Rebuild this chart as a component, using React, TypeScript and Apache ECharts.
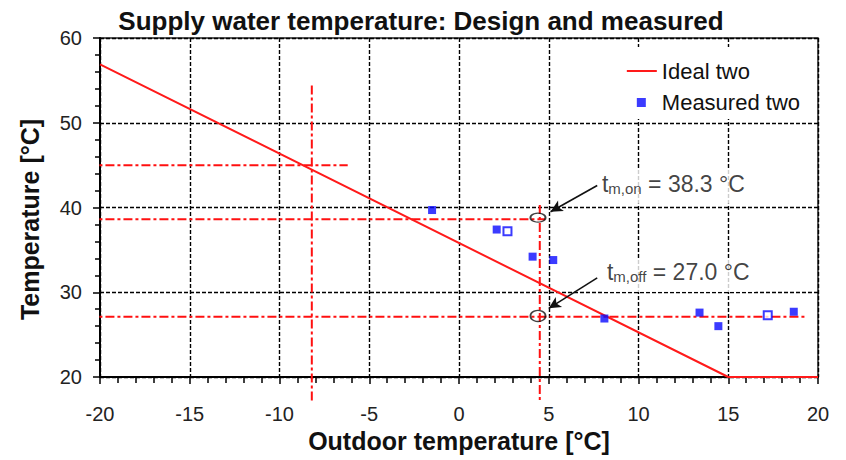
import React, { useEffect, useRef } from "react";
import * as echarts from "echarts";

// Ideal supply temperature curve
const idealX = [-20, 15, 20];
const idealY = [56.9, 20, 20];

// Measured supply temperatures
const measuredX = [-1.5, 2.1, 2.7, 4.1, 5.25, 8.1, 13.4, 14.45, 17.2, 18.65];
const measuredY = [39.7, 37.4, 37.2, 34.2, 33.8, 26.9, 27.6, 26.0, 27.3, 27.7];
const hollowIdx = [2, 8];

// Red dash-dot reference lines (from -> to)
const refFromX = [-20.7, -20.7, -20.7, -8.2, 4.5];
const refFromY = [45, 38.6, 27.1, 54.4, 40.3];
const refToX = [-6.2, 4.8, 19.4, -8.2, 4.5];
const refToY = [45, 38.6, 27.1, 17.0, 17.0];

// Annotations
const annotX = [7.74, 8.02];
const annotY = [42.44, 32.05];
const annotSub = ["m,on", "m,off"];
const annotValue = ["38.3", "27.0"];
const arrowFromX = [7.7, 7.7];
const arrowFromY = [42.6, 31.7];
const arrowToX = [5.1, 5.0];
const arrowToY = [39.5, 28.1];
const circleX = [4.4, 4.4];
const circleY = [38.8, 27.2];
const circleW = [15, 15];
const circleH = [9, 11];

const FONT = "Liberation Sans, Arial, sans-serif";

export default function App() {
  const ref = useRef<HTMLDivElement>(null);
  useEffect(() => {
    const chart = echarts.init(ref.current!, null, { renderer: "svg" });

    const refSeries = refFromX.map((x, i) => ({
      type: "line",
      name: "ref" + i,
      data: [
        [x, refFromY[i]],
        [refToX[i], refToY[i]],
      ],
      symbol: "none",
      clip: false,
      silent: true,
      z: 3,
      lineStyle: { color: "#ff1010", width: 2, type: [9, 3, 3, 3] },
    }));

    const option: any = {
      animation: false,
      backgroundColor: "#fff",
      textStyle: { fontFamily: FONT },
      title: {
        text: "Supply water temperature: Design and measured",
        left: 416,
        textAlign: "center",
        top: 3,
        textStyle: { fontFamily: FONT, fontSize: 26, fontWeight: "bold", color: "#111" },
      },
      legend: {
        orient: "vertical",
        right: 31,
        top: 47,
        backgroundColor: "#fff",
        padding: [12, 15, 5, 20],
        itemGap: 7,
        itemWidth: 30,
        itemHeight: 14,
        textStyle: { fontFamily: FONT, fontSize: 22, color: "#111", lineHeight: 24 },
        data: [
          { name: "Ideal two", icon: "path://M0,0M30,14M0,6h30v2h-30z" },
          { name: "Measured two", icon: "path://M0,0M30,14M10,3h9v9h-9z" },
        ],
      },
      grid: {
        left: 100,
        right: 28,
        top: 38,
        bottom: 83,
        show: true,
        borderColor: "#222",
        borderWidth: 1.5,
      },
      xAxis: {
        type: "value",
        min: -20,
        max: 20,
        interval: 5,
        name: "Outdoor temperature [°C]",
        nameLocation: "middle",
        nameGap: 47,
        nameTextStyle: { fontFamily: FONT, fontSize: 25, fontWeight: "bold", color: "#111" },
        axisLine: { onZero: false, lineStyle: { color: "#000", width: 2 } },
        axisTick: { length: 7, lineStyle: { color: "#000", width: 1.5 } },
        minorTick: { show: true, splitNumber: 5, length: 6, lineStyle: { color: "#000", width: 1.5 } },
        axisLabel: { margin: 27, fontFamily: FONT, fontSize: 20, color: "#222" },
        splitLine: { show: true, lineStyle: { color: "#000", width: 1.4, type: [4, 2] } },
      },
      yAxis: {
        type: "value",
        min: 20,
        max: 60,
        interval: 10,
        name: "Temperature [°C]",
        nameLocation: "middle",
        nameGap: 58,
        nameTextStyle: {
          fontFamily: FONT,
          fontSize: 25,
          fontWeight: "bold",
          color: "#111",
          padding: [0, 24, 0, 0],
        },
        axisLine: { show: true, onZero: false, lineStyle: { color: "#000", width: 2 } },
        axisTick: { show: true, length: 7, lineStyle: { color: "#000", width: 1.5 } },
        minorTick: { show: true, splitNumber: 5, length: 5, lineStyle: { color: "#000", width: 1.5 } },
        axisLabel: { margin: 18, fontFamily: FONT, fontSize: 20, color: "#222" },
        splitLine: { show: true, lineStyle: { color: "#000", width: 1.4, type: [4, 2] } },
      },
      series: [
        ...refSeries,
        {
          type: "line",
          name: "Ideal two",
          data: idealX.map((x, i) => [x, idealY[i]]),
          symbol: "none",
          z: 4,
          lineStyle: { color: "#ff1a1a", width: 2 },
          itemStyle: { color: "#ff1a1a" },
        },
        {
          type: "scatter",
          name: "Measured two",
          symbol: "rect",
          symbolSize: 8,
          z: 5,
          itemStyle: { color: "#0a0aff" },
          data: measuredX.map((x, i) =>
            hollowIdx.includes(i)
              ? {
                  value: [x, measuredY[i]],
                  itemStyle: { color: "#fff", borderColor: "#0a0aff", borderWidth: 2 },
                }
              : { value: [x, measuredY[i]] }
          ),
        },
        {
          type: "scatter",
          name: "circles",
          symbol: "circle",
          z: 6,
          silent: true,
          itemStyle: { color: "rgba(0,0,0,0)", borderColor: "#111", borderWidth: 1.6 },
          data: circleX.map((x, i) => ({
            value: [x, circleY[i]],
            symbolSize: [circleW[i], circleH[i]],
          })),
        },
        {
          type: "scatter",
          name: "annotations",
          symbolSize: 0,
          z: 7,
          silent: true,
          data: annotX.map((x, i) => ({
            value: [x, annotY[i]],
            label: {
              formatter: `{t|t}{s|${annotSub[i]}}{v| = ${annotValue[i]} °C}`,
            },
          })),
          label: {
            show: true,
            position: [0, 0],
            align: "left",
            verticalAlign: "middle",
            backgroundColor: "#fff",
            padding: [2, 6, 8, 4],
            color: "#111",
            rich: {
              t: { fontFamily: FONT, fontSize: 23, lineHeight: 24, color: "#111" },
              s: { fontFamily: FONT, fontSize: 15, lineHeight: 10, verticalAlign: "bottom", color: "#111" },
              v: { fontFamily: FONT, fontSize: 23, lineHeight: 24, color: "#111" },
            },
          },
          markLine: {
            silent: true,
            symbol: ["none", "arrow"],
            symbolSize: [9, 12],
            label: { show: false },
            lineStyle: { color: "#111", width: 1.6, type: "solid" },
            data: arrowFromX.map((x, i) => [
              { coord: [x, arrowFromY[i]] },
              { coord: [arrowToX[i], arrowToY[i]] },
            ]),
          },
        },
      ],
    };

    chart.setOption(option);
    return () => chart.dispose();
  }, []);

  return (
    <div
      ref={ref}
      style={{ position: "fixed", left: 0, top: 0, width: 846, height: 460, background: "#fff" }}
    />
  );
}
